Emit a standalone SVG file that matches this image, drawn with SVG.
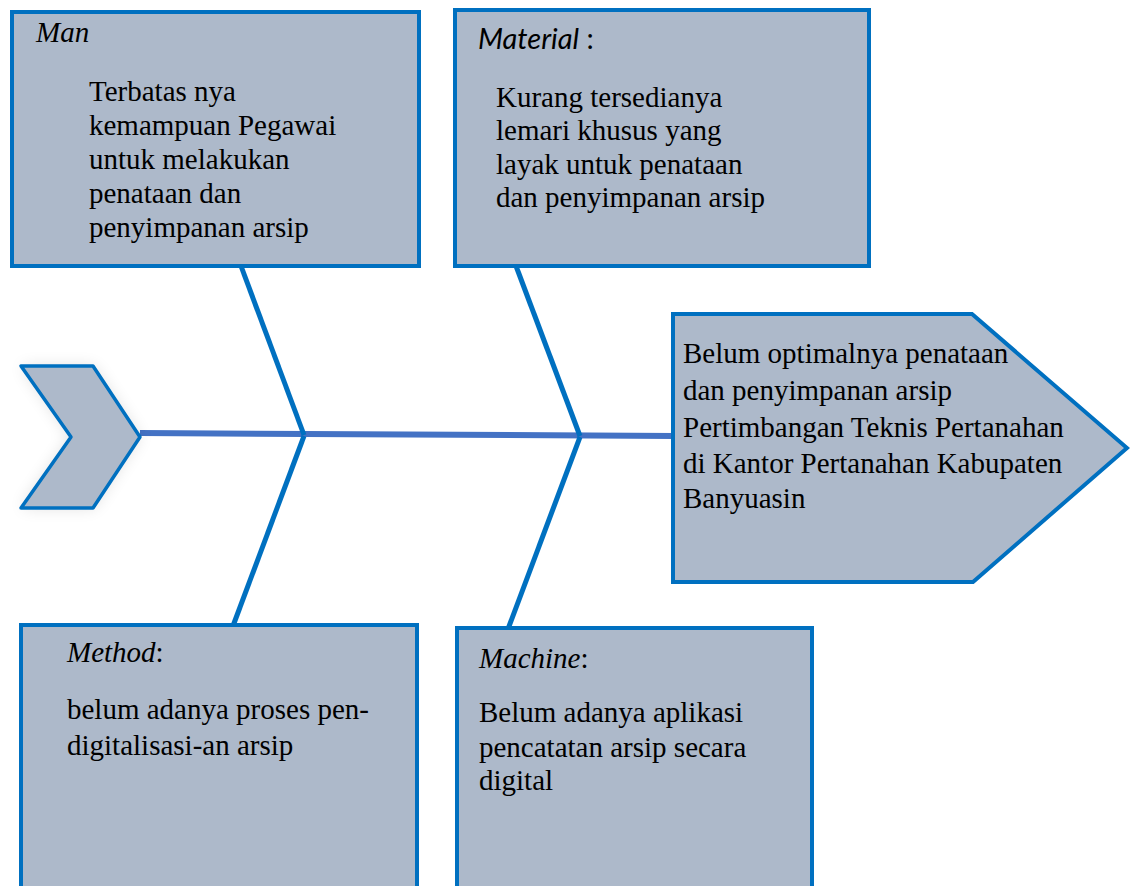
<svg xmlns="http://www.w3.org/2000/svg" width="1130" height="886" viewBox="0 0 1130 886">
<defs>
<style>
.box{fill:#ADB9CA;stroke:#0070C0;stroke-width:4;stroke-linejoin:miter}
.t{font-family:"Liberation Serif","Times New Roman",serif;font-size:29px;fill:#000}
.it{font-style:italic}
.sans{font-family:Lato,"Liberation Sans",sans-serif;font-size:29px;fill:#000}
.bone{stroke:#0070C0;stroke-width:5;fill:none;stroke-linecap:butt}
.spine{stroke:#4472C4;stroke-width:6;fill:none}
</style>
<filter id="glow" x="-40%" y="-40%" width="180%" height="180%">
<feGaussianBlur stdDeviation="8"/>
</filter>
</defs>
<rect width="1130" height="886" fill="#fff"/>
<g id="connectors">
<line class="spine" x1="140" y1="433" x2="674" y2="436"/>
<line class="bone" x1="241" y1="266" x2="304" y2="435"/>
<line class="bone" x1="304" y1="436" x2="233" y2="626"/>
<line class="bone" x1="516" y1="266" x2="580" y2="436"/>
<line class="bone" x1="580" y1="437" x2="508" y2="629"/>
</g>
<g id="tail">
<polygon points="21,366 93,366 140,437 93,508 21,508 71,437" fill="#000" opacity="0.12" filter="url(#glow)"/>
<polygon points="21,366 93,366 140,437 93,508 21,508 71,437" fill="#ADB9CA" stroke="#0070C0" stroke-width="3.5" stroke-linejoin="round"/>
</g>
<g id="man">
<rect class="box" x="12" y="12" width="407" height="254"/>
<text class="t it" x="36" y="42">Man</text>
<text class="t" x="89" y="101">Terbatas nya</text>
<text class="t" x="89" y="135">kemampuan Pegawai</text>
<text class="t" x="89" y="169">untuk melakukan</text>
<text class="t" x="89" y="203">penataan dan</text>
<text class="t" x="89" y="237">penyimpanan arsip</text>
</g>
<g id="material">
<rect class="box" x="455" y="10" width="414" height="256"/>
<text class="sans" x="478" y="49"><tspan font-style="italic">Material</tspan> :</text>
<text class="t" x="496" y="107">Kurang tersedianya</text>
<text class="t" x="496" y="140">lemari khusus yang</text>
<text class="t" x="496" y="174">layak untuk penataan</text>
<text class="t" x="496" y="207">dan penyimpanan arsip</text>
</g>
<g id="method">
<rect class="box" x="21" y="625" width="396" height="275"/>
<text class="t" x="67" y="662"><tspan class="it">Method</tspan>:</text>
<text class="t" x="67" y="719">belum adanya proses pen-</text>
<text class="t" x="67" y="755">digitalisasi-an arsip</text>
</g>
<g id="machine">
<rect class="box" x="457" y="628" width="355" height="272"/>
<text class="t" x="479" y="668"><tspan class="it">Machine</tspan>:</text>
<text class="t" x="479" y="722">Belum adanya aplikasi</text>
<text class="t" x="479" y="757">pencatatan arsip secara</text>
<text class="t" x="479" y="790">digital</text>
</g>
<g id="effect">
<polygon class="box" points="673,314 972,314 1127,448 973,582 673,582"/>
<text class="t" x="683" y="363">Belum optimalnya penataan</text>
<text class="t" x="683" y="400">dan penyimpanan arsip</text>
<text class="t" x="683" y="437">Pertimbangan Teknis Pertanahan</text>
<text class="t" x="683" y="473">di Kantor Pertanahan Kabupaten</text>
<text class="t" x="683" y="508">Banyuasin</text>
</g>
</svg>
